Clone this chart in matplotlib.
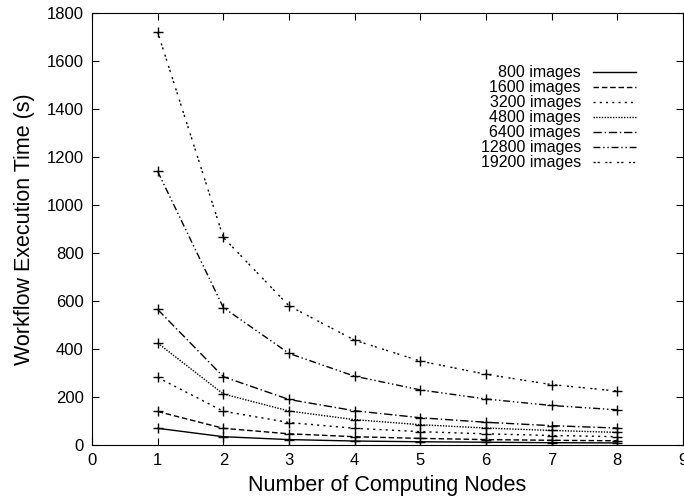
import matplotlib
matplotlib.use("Agg")
import matplotlib.pyplot as plt
from matplotlib.lines import Line2D

plt.rcParams['font.family'] = ['Liberation Sans', 'DejaVu Sans']

nodes = [1, 2, 3, 4, 5, 6, 7, 8]
labels = ["800 images", "1600 images", "3200 images", "4800 images",
          "6400 images", "12800 images", "19200 images"]
t800 = [70, 35, 23, 17, 14, 12, 10, 9]
t1600 = [140, 70, 47, 35, 28, 23, 20, 18]
t3200 = [282, 141, 94, 70, 56, 47, 40, 35]
t4800 = [425, 213, 142, 106, 85, 71, 61, 53]
t6400 = [565, 285, 190, 143, 114, 95, 81, 71]
t12800 = [1140, 573, 382, 287, 230, 192, 165, 147]
t19200 = [1720, 865, 580, 437, 350, 295, 252, 225]
series = [t800, t1600, t3200, t4800, t6400, t12800, t19200]

styles = ['-', (0, (4, 2)), (0, (1.5, 3)), (0, (1, 1)),
          (0, (6, 2, 1, 2)), (0, (5, 2, 1, 2, 1, 2)), (0, (1.5, 1.5, 1.5, 4))]

fig = plt.figure(figsize=(6.84, 4.99), dpi=100)
ax = fig.add_axes([0.1345, 0.108, 0.864, 0.866])

handles = []
for y, ls, lab in zip(series, styles, labels):
    ax.plot(nodes, y, color='black', linestyle=ls, linewidth=1.0,
            marker='+', markersize=7, markeredgewidth=1.0)
    handles.append(Line2D([], [], color='black', linestyle=ls, linewidth=1.0))

ax.set_xlim(0, 9)
ax.set_ylim(0, 1800)
ax.set_xticks(range(0, 10))
ax.set_yticks(range(0, 1801, 200))
ax.tick_params(direction='in', top=True, right=True, labelsize=12, length=5, pad=6)
ax.set_xlabel("Number of Computing Nodes", fontsize=15.5, labelpad=5)
ax.set_ylabel("Workflow Execution Time (s)", fontsize=15.5, labelpad=8)

ax.legend(handles, labels, loc='upper right', bbox_to_anchor=(0.945, 0.912),
          frameon=False, markerfirst=False, fontsize=11.5, handlelength=2.7,
          labelspacing=0.0, handletextpad=0.75)

fig.savefig("out.png", dpi=100)
